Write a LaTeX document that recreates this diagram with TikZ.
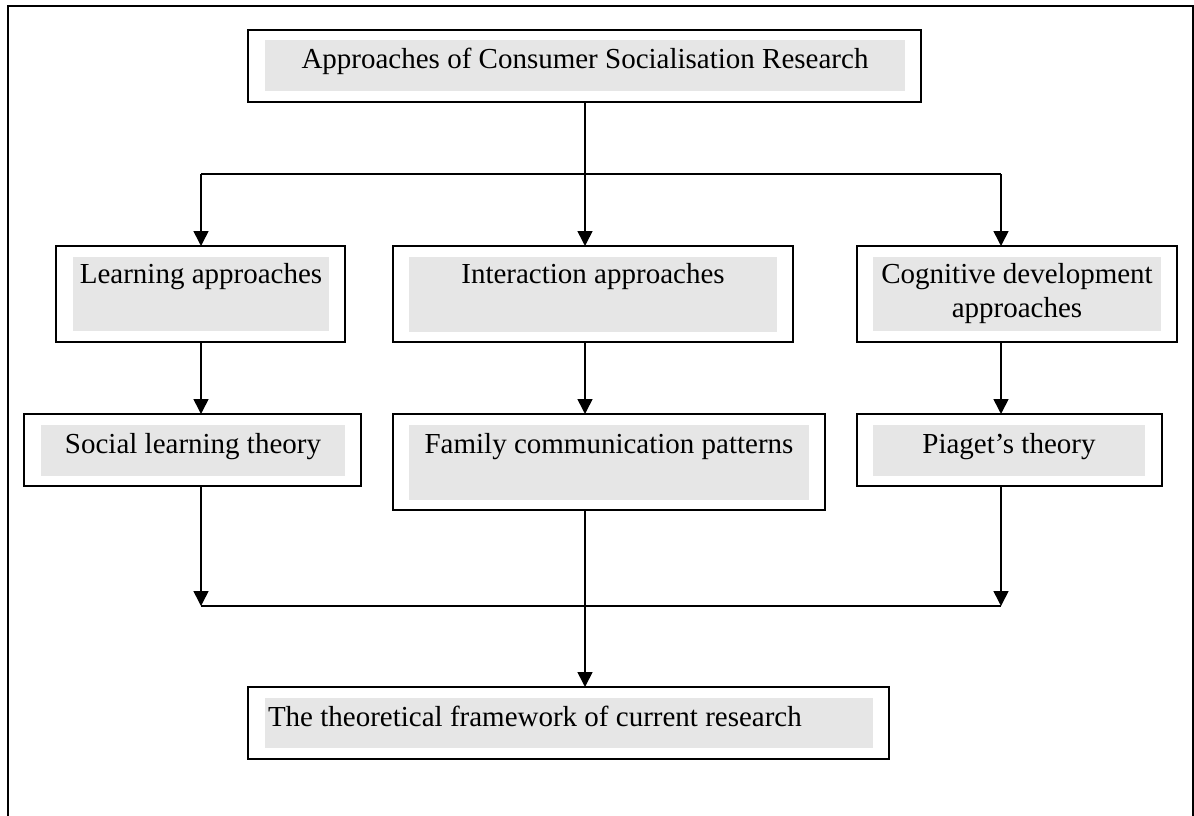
\documentclass[tikz,border=0pt]{standalone}
\usepackage{fontspec}
\setmainfont{Liberation Serif}
\usetikzlibrary{arrows.meta}
\definecolor{boxgray}{HTML}{E6E6E6}
\begin{document}
\begin{tikzpicture}[x=1pt,y=-1pt,
  outerbox/.style={draw, rectangle, line width=2pt, inner sep=0pt, outer sep=0pt, fill=white},
  innerbox/.style={rectangle, fill=boxgray, inner sep=0pt, outer sep=0pt},
  lbl/.style={inner sep=0pt, outer sep=0pt, font=\fontsize{29}{34}\selectfont, align=center},
  link/.style={line width=1.6pt, -{Triangle[width=15pt,length=15pt]}},
  plain/.style={line width=1.6pt}]
% page and surrounding frame
\useasboundingbox (0,0) rectangle (1194,816);
\fill[white] (0,0) rectangle (1194,816);
\draw[line width=1.9pt] (8,830) -- (8,6) -- (1193,6) -- (1193,830);

% top box
\node[outerbox, minimum width=673pt, minimum height=72pt] (top) at (584.5,66) {};
\node[innerbox, minimum width=640pt, minimum height=51pt] (topg) at (585,65.5) {};
\node[lbl, anchor=base] (topt) at (585,68) {Approaches of Consumer Socialisation Research};

% second row
\node[outerbox, minimum width=289pt, minimum height=96pt] (learn) at (200.5,294) {};
\node[innerbox, minimum width=256pt, minimum height=74pt] (learng) at (201,294) {};
\node[lbl, anchor=base] (learnt) at (201,283) {Learning approaches};

\node[outerbox, minimum width=400pt, minimum height=96pt] (inter) at (593,294) {};
\node[innerbox, minimum width=368pt, minimum height=75pt] (interg) at (593,294.5) {};
\node[lbl, anchor=base] (intert) at (593,283) {Interaction approaches};

\node[outerbox, minimum width=320pt, minimum height=96pt] (cogn) at (1017,294) {};
\node[innerbox, minimum width=288pt, minimum height=74pt] (cogng) at (1017,294) {};
\node[lbl, anchor=base] (cognt) at (1017,317) {Cognitive development\\approaches};

% third row
\node[outerbox, minimum width=337pt, minimum height=72pt] (social) at (192.5,450) {};
\node[innerbox, minimum width=304pt, minimum height=51pt] (socialg) at (193,450.5) {};
\node[lbl, anchor=base] (socialt) at (193,453) {Social learning theory};

\node[outerbox, minimum width=432pt, minimum height=96pt] (family) at (609,462) {};
\node[innerbox, minimum width=400pt, minimum height=75pt] (familyg) at (609,462.5) {};
\node[lbl, anchor=base] (familyt) at (609,453) {Family communication patterns};

\node[outerbox, minimum width=305pt, minimum height=72pt] (piaget) at (1009.5,450) {};
\node[innerbox, minimum width=272pt, minimum height=51pt] (piagetg) at (1009,450.5) {};
\node[lbl, anchor=base] (piagett) at (1009,453) {Piaget’s theory};

% bottom box
\node[outerbox, minimum width=641pt, minimum height=72pt] (final) at (568.5,723) {};
\node[innerbox, minimum width=608pt, minimum height=50pt] (finalg) at (569,723) {};
\node[lbl, anchor=base west] (finalt) at (268,726) {The theoretical framework of current research};

% branching connectors
\coordinate (split) at (585,174);
\coordinate (lsplit) at (201,174);
\coordinate (rsplit) at (1001,174);
\draw[plain] (split |- top.south) -- (split);
\draw[plain] (lsplit) -- (rsplit);
\draw[link] (lsplit) -- (lsplit |- learn.north);
\draw[link] (split) -- (split |- inter.north);
\draw[link] (rsplit) -- (rsplit |- cogn.north);

\draw[link] (lsplit |- learn.south) -- (lsplit |- social.north);
\draw[link] (split |- inter.south) -- (split |- family.north);
\draw[link] (rsplit |- cogn.south) -- (rsplit |- piaget.north);

% merging connectors
\coordinate (lmerge) at (201,606);
\coordinate (rmerge) at (1001,606);
\draw[link] (lsplit |- social.south) -- (lmerge);
\draw[link] (rsplit |- piaget.south) -- (rmerge);
\draw[plain] (lmerge) -- (rmerge);
\draw[link] (split |- family.south) -- (split |- final.north);
\end{tikzpicture}
\end{document}
